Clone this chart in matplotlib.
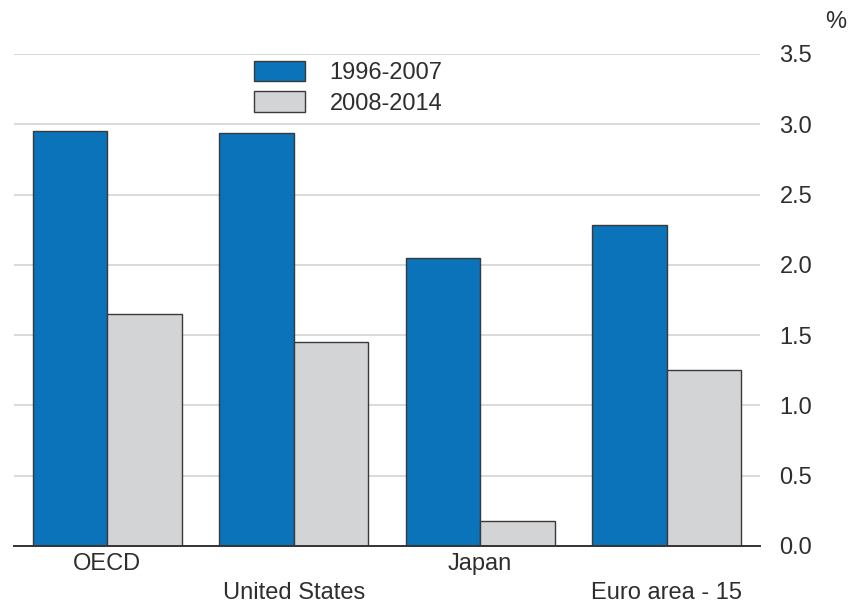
import matplotlib
matplotlib.use("Agg")
import matplotlib.pyplot as plt
import numpy as np
from matplotlib import transforms

categories = ["OECD", "United States", "Japan", "Euro area - 15"]
series_names = ["1996-2007", "2008-2014"]
v_1996_2007 = [2.95, 2.94, 2.05, 2.28]
v_2008_2014 = [1.65, 1.45, 0.18, 1.25]
yticks = [0.0, 0.5, 1.0, 1.5, 2.0, 2.5, 3.0, 3.5]

plt.rcParams['font.family'] = ['Liberation Sans', 'DejaVu Sans']
FS = 17
TXT = "#2e2e2e"

fig = plt.figure(figsize=(8.51, 6.03), dpi=100)
ax = fig.add_axes([14/851, 1-546/603, 746/851, (546-54)/603])

x = np.arange(len(categories))
w = 0.4
blue = "#0A73B9"
grey = "#D3D4D6"
edge = "#3a3a3a"
ax.bar(x - w/2, v_1996_2007, w, color=blue, edgecolor=edge, linewidth=1.0, label=series_names[0], zorder=3)
ax.bar(x + w/2, v_2008_2014, w, color=grey, edgecolor=edge, linewidth=1.0, label=series_names[1], zorder=3)

ax.set_xlim(-0.5, 3.5)
ax.set_ylim(0, 3.5)
ax.set_yticks(yticks)
ax.set_yticklabels([f"{t:.1f}" for t in yticks])
ax.yaxis.tick_right()
ax.tick_params(axis='y', length=0, pad=14, labelsize=FS, labelcolor=TXT)
ax.grid(axis='y', color="#d9d9d9", linewidth=1.4, zorder=0)
ax.set_axisbelow(True)

ax.set_xticks(x)
ax.set_xticklabels([])
ax.tick_params(axis='x', length=0)
trans = transforms.blended_transform_factory(ax.transData, fig.transFigure)
for i, c in enumerate(categories):
    ybase = 570 if i % 2 == 0 else 599
    ax.text(x[i], 1 - ybase/603, c, transform=trans, ha="center", va="baseline",
            fontsize=FS, color=TXT)

for s in ["top", "right", "left"]:
    ax.spines[s].set_visible(False)
ax.spines["bottom"].set_color("#333333")
ax.spines["bottom"].set_linewidth(1.4)
ax.spines["bottom"].set_zorder(4)

fig.text(836/851, 1-22/603, "%", fontsize=FS, color=TXT, ha="center", va="center")

leg = ax.legend(loc="upper left", bbox_to_anchor=(254/851, 1-61/603), bbox_transform=fig.transFigure,
                frameon=False, fontsize=FS, handlelength=2.15, handleheight=0.95,
                handletextpad=1.05, labelspacing=0.3, borderpad=0, borderaxespad=0)
for t in leg.get_texts():
    t.set_color(TXT)

fig.savefig("out.png", dpi=100)
